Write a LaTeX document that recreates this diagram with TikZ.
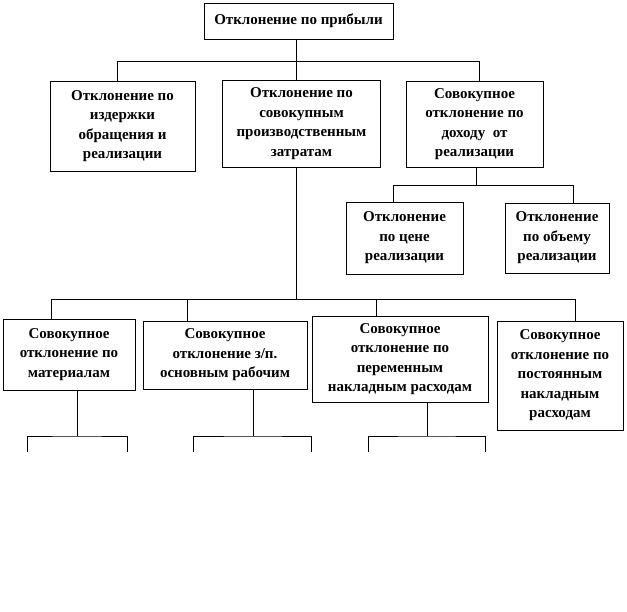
\documentclass[tikz,border=0pt]{standalone}
\usepackage{fontspec}
\setmainfont{Liberation Serif}
\begin{document}
\begin{tikzpicture}[x=1pt, y=-1pt,
    mybox/.style={draw, line width=0.8pt, align=center, inner sep=1pt,
      font=\bfseries\fontsize{15}{19.5}\selectfont},
    myline/.style={line width=0.8pt}]
  \useasboundingbox (0,0) rectangle (627,611);
  % boxes
  \node[mybox, minimum width=189pt, minimum height=36pt] (profit) at (298.5,21) {Отклонение по прибыли};
  \node[mybox, minimum width=145pt, minimum height=90pt] (costs) at (122.5,126) {Отклонение по\\издержки\\обращения и\\реализации};
  \node[mybox, minimum width=158pt, minimum height=87pt] (prod) at (301.5,123.5) {Отклонение по\\совокупным\\производственным\\затратам};
  \node[mybox, minimum width=137pt, minimum height=86pt] (income) at (474.5,124) {Совокупное\\отклонение по\\доходу \ от\\реализации};
  \node[mybox, minimum width=117pt, minimum height=72pt] (price) at (404.5,238) {Отклонение\\по цене\\реализации};
  \node[mybox, minimum width=104pt, minimum height=70pt] (volume) at (557,238) {Отклонение\\по объему\\реализации};
  \node[mybox, minimum width=132pt, minimum height=71pt] (mat) at (69,354.5) {Совокупное\\отклонение по\\материалам};
  \node[mybox, minimum width=164pt, minimum height=68pt] (wage) at (225,355) {Совокупное\\отклонение з/п.\\основным рабочим};
  \node[mybox, minimum width=176pt, minimum height=86pt] (var) at (400,359) {Совокупное\\отклонение по\\переменным\\накладным расходам};
  \node[mybox, minimum width=126pt, minimum height=109pt] (fix) at (560,375.5) {Совокупное\\отклонение по\\постоянным\\накладным\\расходам};
  % first level
  \coordinate (j1) at (296,61);
  \coordinate (j1l) at (117,61);
  \coordinate (j1r) at (479,61);
  \draw[myline] (profit.south -| j1) -- (j1);
  \draw[myline] (j1l) -- (j1r);
  \foreach \c/\n in {j1l/costs, j1/prod, j1r/income}
    \draw[myline] (\c) -- (\c |- \n.north);
  % income
  \coordinate (j2) at (476,185);
  \coordinate (j2l) at (393,185);
  \coordinate (j2r) at (573,185);
  \draw[myline] (income.south -| j2) -- (j2);
  \draw[myline] (j2l) -- (j2r);
  \foreach \c/\n in {j2l/price, j2r/volume}
    \draw[myline] (\c) -- (\c |- \n.north);
  % production costs
  \coordinate (j3) at (296,299);
  \coordinate (j3a) at (51,299);
  \coordinate (j3b) at (187,299);
  \coordinate (j3c) at (376,299);
  \coordinate (j3d) at (575,299);
  \draw[myline] (prod.south -| j3) -- (j3);
  \draw[myline] (j3a) -- (j3d);
  \foreach \c/\n in {j3a/mat, j3b/wage, j3c/var, j3d/fix}
    \draw[myline] (\c) -- (\c |- \n.north);
  % lower stubs
  \foreach \n/\x/\l/\r in {mat/77/27/127, wage/253/193/311, var/427/368/485}{
    \coordinate (\n-j) at (\x,436);
    \coordinate (\n-l) at (\l,452);
    \coordinate (\n-r) at (\r,452);
    \draw[myline] (\n.south -| \n-j) -- (\n-j);
    \draw[myline] (\n-l) |- (\n-j) -| (\n-r);
  }
\end{tikzpicture}
\end{document}
